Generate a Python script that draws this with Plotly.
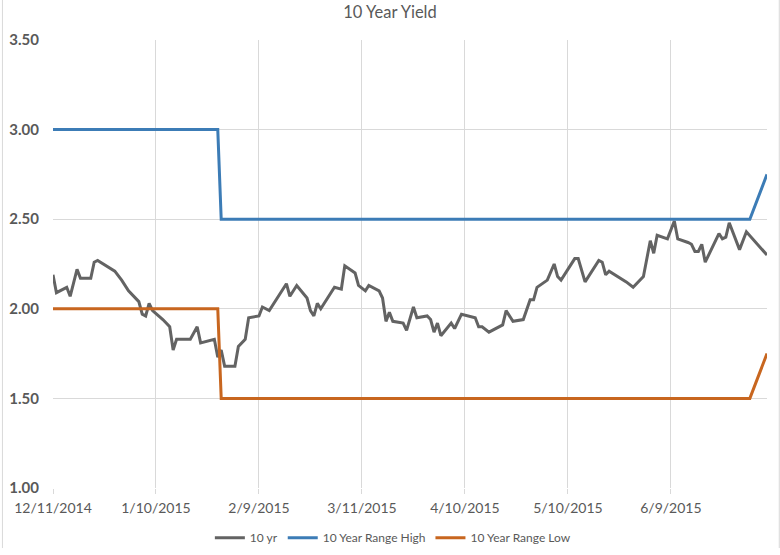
import plotly.graph_objects as go

# 10 yr treasury yield
yr_dates = [
    '2014-12-11', '2014-12-12', '2014-12-15', '2014-12-16', '2014-12-18', '2014-12-19',
    '2014-12-22', '2014-12-23', '2014-12-24', '2014-12-29', '2014-12-31', '2015-01-02',
    '2015-01-05', '2015-01-06', '2015-01-07', '2015-01-08', '2015-01-09', '2015-01-12',
    '2015-01-14', '2015-01-15', '2015-01-16', '2015-01-20', '2015-01-22', '2015-01-23',
    '2015-01-27', '2015-01-28', '2015-01-29', '2015-01-30', '2015-02-02', '2015-02-03',
    '2015-02-05', '2015-02-06', '2015-02-09', '2015-02-10', '2015-02-12', '2015-02-17',
    '2015-02-18', '2015-02-20', '2015-02-23', '2015-02-24', '2015-02-25', '2015-02-26',
    '2015-02-27', '2015-03-03', '2015-03-05', '2015-03-06', '2015-03-09', '2015-03-10',
    '2015-03-12', '2015-03-13', '2015-03-16', '2015-03-17', '2015-03-18', '2015-03-19',
    '2015-03-20', '2015-03-23', '2015-03-24', '2015-03-26', '2015-03-27', '2015-03-30',
    '2015-03-31', '2015-04-01', '2015-04-02', '2015-04-03', '2015-04-06', '2015-04-07',
    '2015-04-09', '2015-04-13', '2015-04-14', '2015-04-15', '2015-04-17', '2015-04-21',
    '2015-04-22', '2015-04-24', '2015-04-27', '2015-04-29', '2015-04-30', '2015-05-01',
    '2015-05-04', '2015-05-06', '2015-05-07', '2015-05-08', '2015-05-12', '2015-05-13',
    '2015-05-15', '2015-05-19', '2015-05-20', '2015-05-21', '2015-05-22', '2015-05-27',
    '2015-05-29', '2015-06-01', '2015-06-03', '2015-06-04', '2015-06-05', '2015-06-08',
    '2015-06-10', '2015-06-11', '2015-06-14', '2015-06-15', '2015-06-16', '2015-06-17',
    '2015-06-18', '2015-06-19', '2015-06-23', '2015-06-24', '2015-06-25', '2015-06-26',
    '2015-06-29', '2015-07-01', '2015-07-07',
]
yr_values = [
    2.19, 2.09, 2.12, 2.07, 2.22, 2.17,
    2.17, 2.26, 2.27, 2.21, 2.16, 2.10,
    2.04, 1.97, 1.96, 2.03, 1.99, 1.94,
    1.90, 1.77, 1.83, 1.83, 1.90, 1.81,
    1.83, 1.73, 1.77, 1.68, 1.68, 1.79,
    1.83, 1.95, 1.96, 2.01, 1.99, 2.14,
    2.07, 2.13, 2.06, 1.99, 1.96, 2.03,
    2.00, 2.12, 2.11, 2.24, 2.20, 2.13,
    2.10, 2.13, 2.10, 2.06, 1.93, 1.98,
    1.93, 1.92, 1.88, 2.01, 1.95, 1.96,
    1.94, 1.87, 1.92, 1.85, 1.92, 1.89,
    1.97, 1.95, 1.90, 1.90, 1.87, 1.91,
    1.99, 1.93, 1.94, 2.05, 2.05, 2.12,
    2.16, 2.25, 2.18, 2.16, 2.28, 2.28,
    2.15, 2.27, 2.26, 2.19, 2.21, 2.15,
    2.12, 2.18, 2.38, 2.31, 2.41, 2.39,
    2.49, 2.39, 2.37, 2.36, 2.32, 2.32,
    2.36, 2.26, 2.42, 2.39, 2.40, 2.48,
    2.33, 2.43, 2.30,
]

# range bands (step changes)
range_dates = ['2014-12-11', '2015-01-28', '2015-01-29', '2015-07-02', '2015-07-07']
range_high = [3.00, 3.00, 2.50, 2.50, 2.75]
range_low = [2.00, 2.00, 1.50, 1.50, 1.75]

tick_dates = ['2014-12-11', '2015-01-10', '2015-02-09', '2015-03-11',
              '2015-04-10', '2015-05-10', '2015-06-09']
tick_labels = ['12/11/2014', '1/10/2015', '2/9/2015', '3/11/2015',
               '4/10/2015', '5/10/2015', '6/9/2015']

GRID = '#d9d9d9'
TXT = '#595959'

fig = go.Figure()
fig.add_trace(go.Scatter(x=yr_dates, y=yr_values, mode='lines', name='10 yr',
                         line=dict(color='#636363', width=3)))
fig.add_trace(go.Scatter(x=range_dates, y=range_high, mode='lines', name='10 Year Range High',
                         line=dict(color='#3c7cb6', width=3)))
fig.add_trace(go.Scatter(x=range_dates, y=range_low, mode='lines', name='10 Year Range Low',
                         line=dict(color='#c8661f', width=3)))

# faint chart-area border (left / right edges)
border = dict(type='line', xref='paper', yref='paper', y0=-0.134, y1=1.1,
              line=dict(color=GRID, width=1))

fig.update_layout(
    width=780, height=555,
    margin=dict(l=53, r=13, t=40, b=67, autoexpand=False),
    paper_bgcolor='white', plot_bgcolor='white',
    font=dict(family='Lato, Open Sans, sans-serif', color=TXT),
    title=dict(text='10 Year Yield', x=0.5, xanchor='center', y=0.9775, yanchor='middle',
               font=dict(size=16.5, color=TXT)),
    showlegend=True,
    legend=dict(orientation='h', x=0.476, xanchor='center', y=-0.111, yanchor='middle',
                font=dict(size=12, color=TXT), itemwidth=30, tracegroupgap=0),
    shapes=[dict(border, x0=-0.0708, x1=-0.0708), dict(border, x0=1.0172, x1=1.0172)],
)
fig.update_xaxes(
    type='date', range=['2014-12-11', '2015-07-07'],
    tickvals=tick_dates, ticktext=tick_labels,
    showgrid=True, gridcolor=GRID, gridwidth=1,
    ticks='outside', ticklen=5, tickcolor=GRID,
    showline=False, zeroline=False, ticklabelstandoff=2,
    tickfont=dict(size=14, color=TXT),
)
fig.update_yaxes(
    range=[1.0, 3.5], tickvals=[1.0, 1.5, 2.0, 2.5, 3.0, 3.5], tickformat='.2f',
    showgrid=True, gridcolor=GRID, gridwidth=1,
    showline=False, zeroline=False, ticks='',
    ticklabelstandoff=13,
    tickfont=dict(size=15, color=TXT, weight='bold'),
)

fig.write_html('out.html', config={'displayModeBar': False},
               post_script="document.body.style.margin='0';")
